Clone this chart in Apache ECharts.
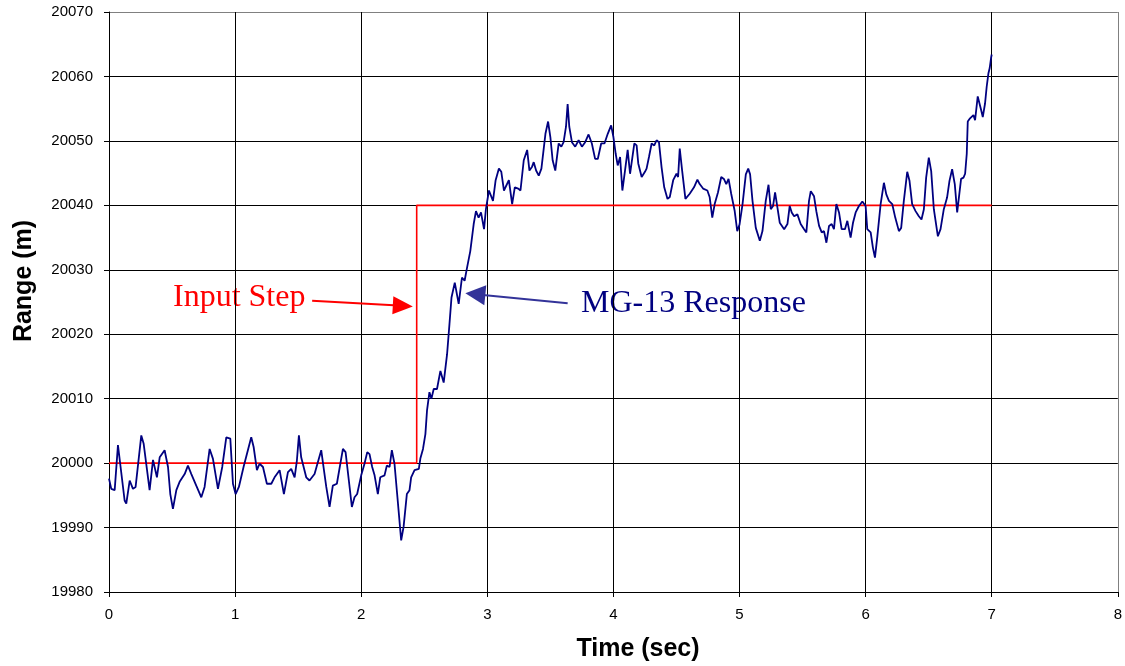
<!DOCTYPE html>
<html>
<head>
<meta charset="utf-8">
<script src="https://cdn.jsdelivr.net/npm/echarts@6/dist/echarts.min.js"></script>
<style>
html,body{margin:0;padding:0;background:#fff;}
#main{width:1125px;height:666px;}
</style>
</head>
<body>
<div id="main"></div>
<script>
// MG-13 response, time (sec)
var respTime = [
	0.000,0.018,0.045,0.071,0.085,0.124,0.137,0.164,0.190,0.211,0.256,0.275,0.322,0.349,0.362,0.380,0.402,0.441,0.468,0.486,
	0.507,0.534,0.560,0.573,0.600,0.626,0.653,0.692,0.732,0.758,0.798,0.824,0.838,0.864,0.898,0.930,0.962,0.983,1.004,1.030,
	1.067,1.128,1.147,1.173,1.194,1.221,1.252,1.287,1.313,1.353,1.387,1.419,1.445,1.472,1.490,1.506,1.524,1.564,1.590,1.630,
	1.683,1.701,1.723,1.749,1.775,1.807,1.855,1.876,1.902,1.926,1.947,1.968,2.000,2.026,2.048,2.066,2.087,2.106,2.132,2.151,
	2.185,2.203,2.225,2.243,2.264,2.285,2.317,2.336,2.362,2.383,2.396,2.423,2.457,
	2.469,2.490,2.509,2.522,2.541,2.557,2.575,2.601,2.628,2.654,2.681,2.700,2.716,2.742,2.773,2.799,2.820,2.839,2.865,2.892,
	2.910,2.931,2.950,2.974,2.989,
	3.013,3.026,3.045,3.066,3.092,3.111,3.132,3.145,3.171,3.197,3.218,3.245,3.263,3.289,3.316,3.334,3.355,3.368,3.387,3.408,
	3.429,3.461,3.482,3.500,3.518,3.539,3.566,3.587,3.605,3.624,3.637,3.650,3.671,3.697,3.724,3.750,3.776,3.803,3.829,3.855,
	3.876,3.903,3.929,3.955,3.982,4.000,4.018,4.034,4.053,4.071,4.092,4.113,4.132,4.145,4.166,4.184,4.197,4.224,4.250,4.263,
	4.282,4.303,4.324,4.342,4.361,4.382,4.403,4.429,4.447,4.474,4.500,4.513,4.526,4.545,4.571,4.605,4.639,4.666,4.684,4.711,
	4.745,4.763,4.784,4.803,4.829,4.855,4.876,4.895,4.913,4.934,4.961,4.982,
	5.000,5.024,5.050,5.069,5.084,5.103,5.129,5.161,5.182,5.208,5.230,5.248,5.266,5.282,5.301,5.319,5.354,5.380,5.398,5.414,
	5.433,5.459,5.485,5.512,5.530,5.551,5.565,5.591,5.609,5.631,5.652,5.670,5.689,5.710,5.731,5.749,5.768,5.789,5.810,5.836,
	5.855,5.881,5.900,5.921,5.947,5.974,6.000,6.013,6.040,6.058,6.074,6.092,6.119,6.145,6.164,6.185,6.211,6.235,6.264,6.282,
	6.303,6.330,6.348,6.369,6.396,6.422,6.443,6.462,6.480,6.501,6.520,6.541,6.573,6.594,6.620,6.646,6.665,6.686,6.707,6.726,
	6.739,
	6.757,6.776,6.789,6.802,6.810,6.828,6.842,6.855,6.868,6.889,6.902,6.916,6.929,6.947,6.960,6.974,6.984,6.995,7.000
];
// range (m)
var respRange = [
	19997.6,19996.0,19995.8,20002.8,20002.5,19994.2,19993.7,19997.3,19996.0,19996.3,20004.3,20003.0,19995.8,20000.5,20000.2,19997.8,20000.9,20002.0,19999.4,19995.2,
	19992.9,19995.8,19997.1,19996.8,19998.3,19999.6,19998.3,19996.5,19994.7,19996.3,20002.2,20000.7,20000.7,19996.0,19999.4,20004.0,20003.8,19996.8,19995.2,19996.3,
	19999.4,20004.0,20002.5,19998.9,19999.9,19999.4,19996.8,19996.8,19997.8,19998.9,19995.2,19998.6,19999.1,19997.8,20000.4,20004.3,20000.9,19997.8,19997.3,19998.3,
	20002.0,19999.4,19996.3,19993.2,19996.5,19996.8,20002.2,20001.7,19997.3,19993.2,19994.7,19995.2,19998.1,19999.9,20001.7,20001.4,19999.4,19998.1,19995.2,19997.8,
	19998.1,19999.6,19999.4,20002.0,19999.9,19995.2,19988.0,19990.1,19995.2,19995.8,19997.8,19998.9,19999.1,
	20000.7,20002.2,20004.5,20008.2,20011.0,20010.0,20011.5,20011.5,20014.3,20012.5,20016.9,20021.6,20025.7,20028.0,20024.7,20028.8,20028.3,20030.3,20032.9,20037.1,
	20039.1,20038.1,20038.9,20036.3,20039.4,
	20042.3,20042.4,20040.7,20043.9,20045.7,20045.2,20042.3,20042.3,20043.9,20040.2,20042.8,20042.6,20042.3,20047.0,20048.6,20045.4,20046.0,20046.7,20045.4,20044.6,
	20045.7,20051.1,20053.0,20050.6,20047.0,20045.4,20049.6,20049.1,20049.8,20052.2,20055.7,20052.2,20049.8,20049.1,20050.1,20049.1,20049.8,20051.0,20049.6,20047.2,
	20047.2,20049.6,20049.6,20051.1,20052.4,20050.6,20048.0,20046.2,20047.5,20042.3,20045.4,20048.6,20044.9,20044.6,20049.6,20049.3,20046.5,20044.4,20045.2,20045.7,
	20047.5,20049.6,20049.3,20050.1,20049.8,20045.9,20042.8,20041.0,20041.3,20043.9,20044.9,20044.4,20048.8,20045.4,20041.0,20041.8,20042.8,20044.0,20043.3,20042.6,
	20042.3,20041.3,20038.1,20040.2,20042.0,20044.4,20044.1,20043.3,20044.1,20041.8,20039.2,20036.0,
	20037.0,20040.2,20044.8,20045.7,20044.8,20040.7,20036.5,20034.5,20036.0,20040.7,20043.2,20039.4,20039.9,20042.0,20039.6,20037.3,20036.3,20037.1,20039.9,20038.9,
	20038.3,20038.6,20037.1,20036.3,20035.8,20040.7,20042.2,20041.4,20039.1,20036.8,20035.8,20036.0,20034.2,20036.8,20037.1,20036.3,20040.2,20038.9,20036.3,20036.3,
	20037.6,20035.0,20037.3,20038.9,20039.9,20040.6,20039.9,20036.3,20035.8,20033.4,20031.9,20035.0,20040.2,20043.5,20041.7,20040.7,20040.2,20038.1,20036.0,20036.5,
	20040.7,20045.2,20043.8,20040.2,20039.1,20038.3,20037.8,20039.4,20044.3,20047.4,20045.3,20039.4,20035.2,20036.3,20039.4,20041.2,20043.8,20045.6,20043.3,20038.9,
	20038.6,
	20044.1,20044.3,20044.9,20048.0,20053.0,20053.5,20053.2,20054.0,20053.2,20056.9,20057.1,20054.8,20053.7,20055.8,20058.4,20060.5,20061.3,20062.9,20063.4
];

// input step
var stepTime = [0, 2.44, 2.44, 7];
var stepRange = [20000, 20000, 20040, 20040];

// arrows (tail, head) in data units
var redArrow = [[1.611, 20025.2], [2.33, 20024.4]];
var blueArrow = [[3.637, 20024.8], [2.905, 20026.2]];

var font = 'Liberation Sans, Arial, sans-serif';
var serif = 'Liberation Serif, Times New Roman, serif';

function pairs(xs, ys){
	var arr = [];
	for (var i = 0; i < xs.length; i++) {
		arr.push([xs[i], ys[i]]);
	}
	return arr;
}

var myChart = echarts.init(document.getElementById('main'), null, {renderer: 'canvas'});
myChart.setOption({
	animation: false,
	backgroundColor: '#fff',
	grid: {left: 109, right: 6, top: 12, bottom: 74, containLabel: false},
	xAxis: {
		type: 'value', min: 0, max: 8, interval: 1,
		axisLine: {show: true, onZero: false, lineStyle: {color: '#000', width: 1}},
		axisTick: {show: true, inside: false, length: 5, lineStyle: {color: '#000'}},
		axisLabel: {color: '#000', fontFamily: font, fontSize: 15, margin: 15},
		splitLine: {show: true, lineStyle: {color: ['#000','#000','#000','#000','#000','#000','#000','#000','#808080'], width: 1}}
	},
	yAxis: {
		type: 'value', min: 19980, max: 20070, interval: 10,
		axisLine: {show: true, onZero: false, lineStyle: {color: '#000', width: 1}},
		axisTick: {show: true, inside: false, length: 5, lineStyle: {color: '#000'}},
		axisLabel: {color: '#000', fontFamily: font, fontSize: 15, margin: 16,
			formatter: function(v){ return String(v); }},
		splitLine: {show: true, lineStyle: {color: ['#000','#000','#000','#000','#000','#000','#000','#000','#000','#808080'], width: 1}}
	},
	series: [
		{
			type: 'line',
			data: pairs(stepTime, stepRange),
			showSymbol: false,
			symbol: 'none',
			lineStyle: {color: '#ff0000', width: 1.6},
			z: 3,
			markLine: {
				silent: true,
				symbol: ['none', 'triangle'],
				symbolSize: [18, 20],
				label: {show: false},
				lineStyle: {color: '#ff0000', width: 2, type: 'solid'},
				data: [[{coord: redArrow[0]}, {coord: redArrow[1]}]]
			}
		},
		{
			type: 'line',
			data: pairs(respTime, respRange),
			showSymbol: false,
			symbol: 'none',
			lineStyle: {color: '#000080', width: 1.8},
			z: 4,
			markLine: {
				silent: true,
				symbol: ['none', 'triangle'],
				symbolSize: [20, 20],
				label: {show: false},
				lineStyle: {color: '#333399', width: 2, type: 'solid'},
				data: [[{coord: blueArrow[0]}, {coord: blueArrow[1]}]]
			}
		}
	],
	graphic: [
		{
			type: 'text', x: 638, y: 649,
			style: {text: 'Time (sec)', fill: '#000', font: 'bold 25px ' + font, textAlign: 'center', textVerticalAlign: 'middle'}
		},
		{
			type: 'text', x: 24, y: 281, rotation: Math.PI / 2,
			style: {text: 'Range (m)', fill: '#000', font: 'bold 25px ' + font, textAlign: 'center', textVerticalAlign: 'middle'}
		},
		{
			type: 'text', x: 173, y: 298,
			style: {text: 'Input Step', fill: '#ff0000', font: '32px ' + serif, textAlign: 'left', textVerticalAlign: 'middle'}
		},
		{
			type: 'text', x: 581, y: 304,
			style: {text: 'MG-13 Response', fill: '#000080', font: '32px ' + serif, textAlign: 'left', textVerticalAlign: 'middle'}
		}
	]
});
</script>
</body>
</html>
